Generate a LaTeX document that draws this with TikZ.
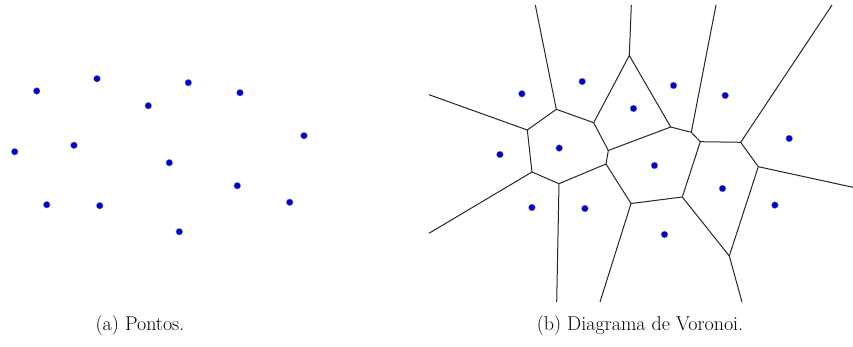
\documentclass[tikz,border=0pt]{standalone}
\begin{document}
\begin{tikzpicture}[x=1pt,y=-1pt,
  site/.style={circle,fill={rgb,255:red,0;green,0;blue,215},draw=black!40,line width=0.3pt,inner sep=0pt,minimum size=6.8pt},
  edge/.style={draw=black!85,line width=1pt},
  captext/.style={font=\fontsize{20}{24}\selectfont,inner sep=0pt}]
\useasboundingbox (0,0) rectangle (853,347);
% left panel points
\foreach \n/\x/\y in {1/36.7/91,2/97/78.7,3/188.3/82.7,4/240/92.7,5/148.3/105.7,6/304/135.7,7/14.7/151.7,8/74/145.3,9/169.3/162.7,10/237.3/185.7,11/46.7/204.7,12/99.7/205.7,13/289.7/202.3,14/179.3/231.7}{
  \node[site] (a\n) at (\x,\y) {};
  \coordinate (b\n) at (\x+485.2,\y+2.8);
}
% Voronoi vertices
\coordinate (A) at (527.3,130);
\coordinate (B) at (556.3,109.3);
\coordinate (C) at (593.7,122.7);
\coordinate (D) at (629.3,55.5);
\coordinate (E) at (670.7,127);
\coordinate (F) at (691.3,132.3);
\coordinate (P) at (700.3,141.7);
\coordinate (Q) at (740.7,142.3);
\coordinate (J) at (608.3,150.5);
\coordinate (I) at (606,164);
\coordinate (G) at (532,172);
\coordinate (H) at (559,183.7);
\coordinate (K) at (631,203.5);
\coordinate (L) at (682.3,197);
\coordinate (M) at (758.3,166.7);
\coordinate (N) at (729.3,256);
% free ends
\coordinate (tB) at (535.3,5);
\coordinate (tD) at (631.3,5);
\coordinate (tF) at (716,5);
\coordinate (tQ) at (832,5);
\coordinate (lA) at (429,94.7);
\coordinate (lG) at (429,233.3);
\coordinate (bH) at (556.7,302);
\coordinate (bK) at (600,302);
\coordinate (bN) at (742,302);
\coordinate (rM) at (853,187.3);
\path[edge] (tB) -- (B) (lA) -- (A) (A) -- (B) (B) -- (C) (C) -- (D) (D) -- (tD)
  (C) -- (J) (D) -- (E) (E) -- (F) (F) -- (tF) (F) -- (P) (P) -- (Q) (Q) -- (tQ)
  (E) -- (J) (J) -- (I) (I) -- (H) (H) -- (G) (G) -- (A) (G) -- (lG) (H) -- (bH)
  (I) -- (K) (K) -- (L) (K) -- (bK) (L) -- (P) (L) -- (N) (N) -- (M) (M) -- (Q)
  (M) -- (rM) (N) -- (bN);
% right panel sites above lines
\foreach \n in {1,...,14}{
  \node[site] (s\n) at (b\n) {};
}
\node[captext] (capa) at (140,326) {(a) Pontos.};
\node[captext] (capb) at (640,326) {(b) Diagrama de Voronoi.};
\end{tikzpicture}
\end{document}
